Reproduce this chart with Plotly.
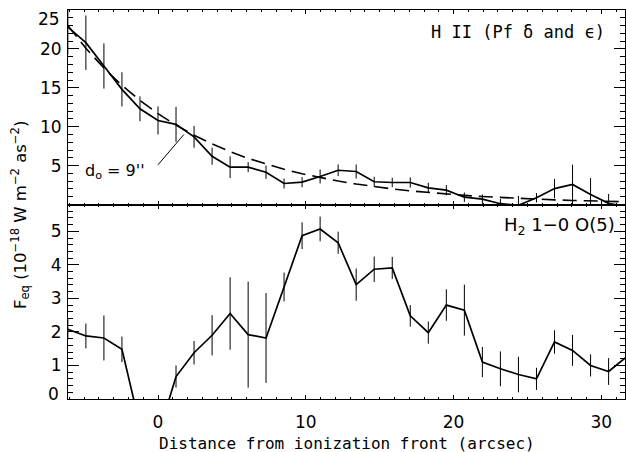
import plotly.graph_objects as go

# ---- data ----
dist = [-6.1, -4.88, -3.66, -2.44, -1.22, 0.0, 1.22, 2.44, 3.66, 4.88, 6.1, 7.31, 8.53,
        9.75, 10.97, 12.19, 13.41, 14.63, 15.85, 17.07, 18.29, 19.51, 20.73, 21.95,
        23.17, 24.39, 25.61, 26.83, 28.05, 29.27, 30.49, 31.71]

hii_flux = [22.8, 20.8, 17.8, 14.8, 12.3, 10.8, 10.3, 8.7, 6.2, 4.8, 4.8, 4.15, 2.7, 2.87,
            3.6, 4.4, 4.24, 2.92, 2.83, 2.83, 2.14, 1.84, 0.94, 0.68, 0.1, -0.1, 0.86,
            2.05, 2.57, 1.3, 0.15, -0.3]
hii_err = [3.5, 3.5, 2.9, 2.2, 1.6, 1.8, 2.25, 1.4, 1.1, 1.4, 0.65, 0.85, 0.65, 0.65,
           0.9, 0.75, 0.9, 0.65, 0.6, 0.65, 0.65, 0.66, 0.6, 0.6, 0.6, 1.2, 0.6, 1.25,
           2.55, 2.1, 1.2, 1.0]
hii_model = [23.0, 20.08, 17.54, 15.31, 13.37, 11.68, 10.2, 8.91, 7.78, 6.79, 5.93, 5.18,
             4.52, 3.95, 3.45, 3.01, 2.63, 2.3, 2.0, 1.75, 1.53, 1.33, 1.17, 1.02, 0.89,
             0.78, 0.68, 0.59, 0.52, 0.45, 0.4, 0.35]

h2_flux = [2.08, 1.88, 1.82, 1.48, -0.8, -1.1, 0.67, 1.38, 1.9, 2.55, 1.92, 1.82, 3.34,
           4.87, 5.07, 4.66, 3.41, 3.87, 3.91, 2.48, 1.98, 2.8, 2.65, 1.1, 0.9, 0.73, 0.6,
           1.7, 1.45, 1.0, 0.82, 1.26]
h2_err = [0.3, 0.37, 0.67, 0.38, 0.4, 0.4, 0.33, 0.35, 0.6, 1.08, 1.58, 1.34, 0.43, 0.4,
          0.37, 0.33, 0.48, 0.38, 0.33, 0.32, 0.33, 0.47, 0.76, 0.45, 0.52, 0.53, 0.33,
          0.35, 0.46, 0.33, 0.4, 0.4]

top_ticks = [5, 10, 15, 20, 25]
top_ticktext = ["5", "10", "15", "20", ""]
bottom_ticks = [0, 1, 2, 3, 4, 5]
bottom_ticktext = ["", "1", "2", "3", "4", "5"]
x_ticks = [0, 10, 20, 30]

FONT = "DejaVu Sans"
MONO = "DejaVu Sans Mono"
FS = 17

W, H = 626, 452
ML, MR, MT, MB = 68, 1, 10, 53
PW, PH = W - ML - MR, H - MT - MB


def px(x):
    return (x - ML) / PW


def py(y):
    return (H - MB - y) / PH


fig = go.Figure()

fig.add_trace(go.Scatter(
    x=dist, y=hii_flux, mode="lines", xaxis="x2", yaxis="y2",
    line=dict(color="black", width=1.7),
    error_y=dict(type="data", array=hii_err, width=0, thickness=1, color="black"),
    showlegend=False))
fig.add_trace(go.Scatter(
    x=dist, y=hii_model, mode="lines", xaxis="x2", yaxis="y2",
    line=dict(color="black", width=1.6, dash="14px,7px"), showlegend=False))
fig.add_trace(go.Scatter(
    x=dist, y=h2_flux, mode="lines", xaxis="x", yaxis="y",
    line=dict(color="black", width=1.7),
    error_y=dict(type="data", array=h2_err, width=0, thickness=1, color="black"),
    showlegend=False))

axis_common = dict(showline=True, linecolor="black", linewidth=1, mirror="allticks",
                   ticks="inside", tickcolor="black", tickwidth=1, showgrid=False,
                   zeroline=False, tickfont=dict(family=FONT, size=FS, color="black"))

xr = [-6.09, 31.6]
fig.update_layout(
    width=W, height=H, margin=dict(l=ML, r=MR, t=MT, b=MB),
    paper_bgcolor="white", plot_bgcolor="white",
    font=dict(family=FONT, size=FS, color="black"),
    xaxis=dict(domain=[0, 1], anchor="y", range=xr, tickvals=x_ticks, ticklen=4,
               ticklabelstandoff=8,
               minor=dict(dtick=1, tick0=0, ticklen=2, ticks="inside", tickcolor="black"),
               **axis_common),
    xaxis2=dict(domain=[0, 1], anchor="y2", range=xr, tickvals=x_ticks, ticklen=4,
                showticklabels=False, matches="x",
                minor=dict(dtick=1, tick0=0, ticklen=2, ticks="inside", tickcolor="black"),
                **axis_common),
    yaxis=dict(domain=[0, 0.5], anchor="x", range=[0, 5.8], tickvals=bottom_ticks,
               ticktext=bottom_ticktext, ticklen=11, ticklabelstandoff=2,
               minor=dict(dtick=0.2, tick0=0, ticklen=5, ticks="inside", tickcolor="black"),
               **axis_common),
    yaxis2=dict(domain=[0.5, 1], anchor="x2", range=[0, 25], tickvals=top_ticks,
                ticktext=top_ticktext, ticklen=11, ticklabelstandoff=2,
                minor=dict(dtick=1, tick0=0, ticklen=5, ticks="inside", tickcolor="black"),
                **axis_common),
)

# pointer line for the d_o label
fig.add_shape(type="line", xref="x2", yref="y2", x0=0.0, y0=5.1, x1=1.75, y1=9.0,
              line=dict(color="black", width=1))

ann = [
    dict(text="Distance from ionization front (arcsec)", x=0.5, y=py(443),
         xanchor="center", yanchor="middle", font=dict(family=MONO, size=16)),
    dict(text="F<sub>eq</sub> (10<sup>−18</sup> W m<sup>−2</sup> as<sup>−2</sup>)",
         x=px(20), y=py(215), textangle=-90, xanchor="center", yanchor="middle",
         font=dict(family=FONT, size=16.5)),
    dict(text="H II (Pf δ and ϵ)", x=px(607), y=py(31.7), xanchor="right",
         yanchor="middle", font=dict(family=MONO, size=17)),
    dict(text="H<sub>2</sub> 1−0 O(5)", x=px(616.5), y=py(226), xanchor="right",
         yanchor="middle", font=dict(family=FONT, size=18)),
    dict(text="d<sub>o</sub> = 9''", x=px(83), y=py(171), xanchor="left",
         yanchor="middle", font=dict(family=FONT, size=16)),
    # end labels of the y axes, placed as in the reference
    dict(text="25", x=px(62), y=py(18.5), xanchor="right", yanchor="middle",
         font=dict(family=FONT, size=FS)),
    dict(text="0", x=px(61), y=py(394), xanchor="right", yanchor="middle",
         font=dict(family=FONT, size=FS)),
]
for a in ann:
    fig.add_annotation(xref="paper", yref="paper", showarrow=False,
                       font_color="black", **a)

fig.write_html("out.html")
